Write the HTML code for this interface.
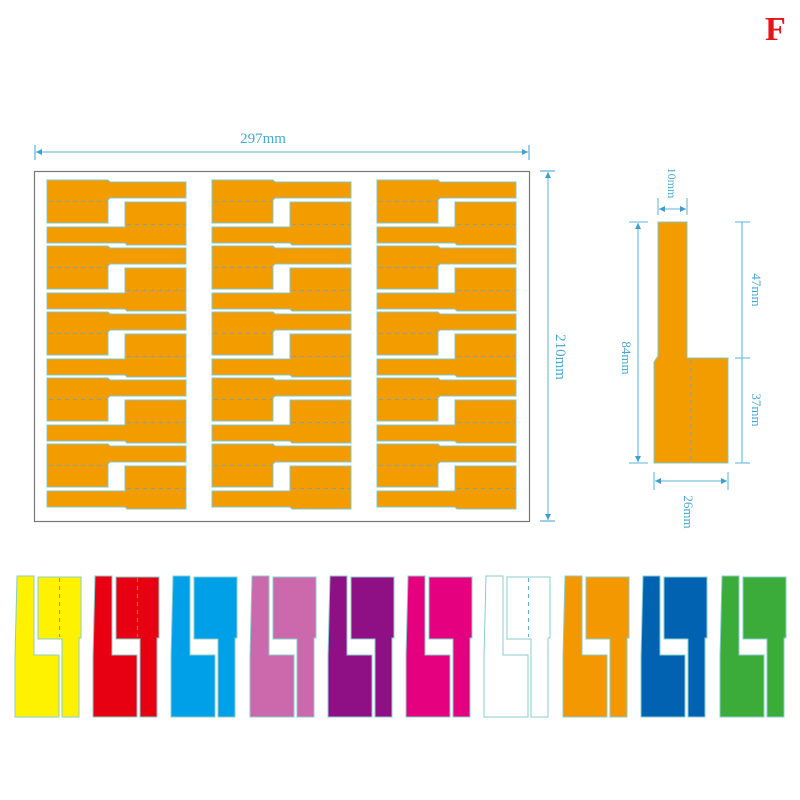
<!DOCTYPE html>
<html><head><meta charset="utf-8"><style>
html,body{margin:0;padding:0;background:#fff;width:800px;height:800px;overflow:hidden}
svg{display:block}
text{font-family:"Liberation Serif",serif;fill:#4aa8cc}
</style></head><body>
<svg width="800" height="800" viewBox="0 0 800 800" xmlns="http://www.w3.org/2000/svg">
<defs>
<g id="pair">
<path d="M0 0H61L63 2H139V18H63L61 20V43H0Z" fill="#F39C00" stroke="#7cc8d0" stroke-width="1"/>
<path d="M78 22H139V65H80L78 63H0V47H78Z" fill="#F39C00" stroke="#7cc8d0" stroke-width="1"/>
<line x1="2" y1="21.5" x2="60" y2="21.5" stroke="#7aa6a0" stroke-width="1" stroke-dasharray="4,4"/>
<line x1="80" y1="44.5" x2="138" y2="44.5" stroke="#7aa6a0" stroke-width="1" stroke-dasharray="4,4"/>
</g>
<g id="col">
<use href="#pair" y="0"/><use href="#pair" y="66"/><use href="#pair" y="132"/><use href="#pair" y="198"/><use href="#pair" y="264"/>
</g>
<g id="lbl">
<path d="M2 0H19V79H44V141H0V81Z" stroke="#8cc" stroke-width="1"/>
<path d="M23 1H66V62H64V141H47V63H23Z" stroke="#8cc" stroke-width="1"/>
</g>
<marker id="ar" markerWidth="6" markerHeight="6" refX="6" refY="3" orient="auto-start-reverse"><path d="M0 0L6 3L0 6Z" fill="#3a9fd0"/></marker>
</defs>

<text x="765" y="40" style="font-family:'Liberation Serif',serif;font-weight:bold;font-size:34px;fill:#e8141c">F</text>

<!-- 297mm -->
<line x1="35" y1="145" x2="35" y2="160" stroke="#3a9fd0"/>
<line x1="529" y1="145" x2="529" y2="160" stroke="#3a9fd0"/>
<line x1="36" y1="152" x2="528" y2="152" stroke="#5ab4d8" marker-start="url(#ar)" marker-end="url(#ar)"/>
<text x="263" y="143" font-size="15" text-anchor="middle">297mm</text>

<!-- sheet -->
<rect x="34.5" y="171.5" width="495" height="350" fill="#fff" stroke="#777" stroke-width="1.2"/>
<use href="#col" x="47" y="180"/>
<use href="#col" x="212" y="180"/>
<use href="#col" x="377" y="180"/>

<!-- 210mm -->
<line x1="540" y1="171" x2="555" y2="171" stroke="#3a9fd0"/>
<line x1="540" y1="521" x2="555" y2="521" stroke="#3a9fd0"/>
<line x1="548" y1="172" x2="548" y2="520" stroke="#5ab4d8" marker-start="url(#ar)" marker-end="url(#ar)"/>
<text x="0" y="0" font-size="15" text-anchor="middle" transform="translate(556,357) rotate(90)">210mm</text>

<!-- single label -->
<path d="M658 222H687V358H728V463H654V362L658 356Z" fill="#F39C00" stroke="#7cc8d0"/>
<line x1="691" y1="360" x2="691" y2="462" stroke="#7aa6a0" stroke-dasharray="4,4"/>
<line x1="658" y1="198" x2="658" y2="215" stroke="#5ab4d8"/>
<line x1="687" y1="198" x2="687" y2="215" stroke="#5ab4d8"/>
<line x1="659" y1="209" x2="686" y2="209" stroke="#5ab4d8" marker-start="url(#ar)" marker-end="url(#ar)"/>
<text font-size="12" text-anchor="middle" transform="translate(668,183) rotate(90)">10mm</text>
<line x1="629" y1="222" x2="648" y2="222" stroke="#5ab4d8"/>
<line x1="629" y1="463" x2="648" y2="463" stroke="#5ab4d8"/>
<line x1="638" y1="223" x2="638" y2="462" stroke="#5ab4d8" marker-start="url(#ar)" marker-end="url(#ar)"/>
<text font-size="13" text-anchor="middle" transform="translate(622,358) rotate(90)">84mm</text>
<line x1="735" y1="222" x2="750" y2="222" stroke="#5ab4d8"/>
<line x1="735" y1="358" x2="750" y2="358" stroke="#5ab4d8"/>
<line x1="735" y1="463" x2="750" y2="463" stroke="#5ab4d8"/>
<line x1="742" y1="222" x2="742" y2="463" stroke="#5ab4d8"/>
<text font-size="13" text-anchor="middle" transform="translate(752,290) rotate(90)">47mm</text>
<text font-size="13" text-anchor="middle" transform="translate(752,410) rotate(90)">37mm</text>
<line x1="654" y1="472" x2="654" y2="490" stroke="#5ab4d8"/>
<line x1="728" y1="472" x2="728" y2="490" stroke="#5ab4d8"/>
<line x1="655" y1="481" x2="727" y2="481" stroke="#5ab4d8" marker-start="url(#ar)" marker-end="url(#ar)"/>
<text font-size="13" text-anchor="middle" transform="translate(684,512) rotate(90)">26mm</text>

<!-- colored labels -->
<use href="#lbl" x="15" y="576" fill="#fff200"/>
<use href="#lbl" x="93" y="576" fill="#e60012"/>
<use href="#lbl" x="171" y="576" fill="#00a0e9"/>
<use href="#lbl" x="250" y="576" fill="#cc68ac"/>
<use href="#lbl" x="328" y="576" fill="#8f0f84"/>
<use href="#lbl" x="406" y="576" fill="#e5007f"/>
<g stroke="#333"><use href="#lbl" x="484" y="576" fill="#fff" style="stroke:#333"/></g>
<use href="#lbl" x="563" y="576" fill="#f39800"/>
<use href="#lbl" x="641" y="576" fill="#0062b1"/>
<use href="#lbl" x="720" y="576" fill="#3bac3a"/>
<g stroke="#88a" stroke-dasharray="4,4" stroke-width="1">
<line x1="59.5" y1="578" x2="59.5" y2="637"/>
<line x1="137.5" y1="578" x2="137.5" y2="637"/>
<line x1="528.5" y1="578" x2="528.5" y2="637" stroke="#5ab4d8"/>
</g>
</svg>
</body></html>
